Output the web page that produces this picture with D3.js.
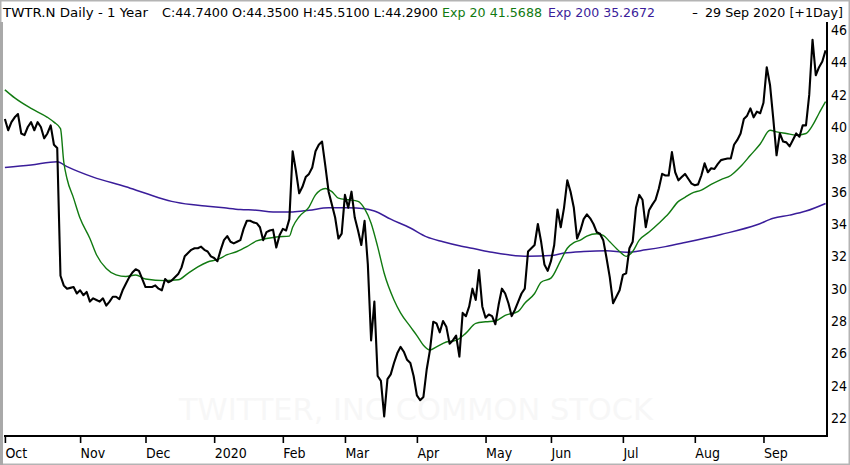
<!DOCTYPE html>
<html>
<head>
<meta charset="utf-8">
<script src="https://cdn.jsdelivr.net/npm/d3@7"></script>
<style>
  body { margin: 0; background: #fff; }
  svg { display: block; }
</style>
</head>
<body>
<svg id="chart" width="850" height="465"></svg>
<script>
// trading days per month, Oct 2019 .. Sep 2020
var monthLabels = ["Oct", "Nov", "Dec", "2020", "Feb", "Mar", "Apr", "May", "Jun", "Jul", "Aug", "Sep"];
var monthDays = [23, 20, 21, 21, 19, 22, 21, 20, 22, 22, 21, 20];

var yTicks = [22, 24, 26, 28, 30, 32, 34, 36, 38, 40, 42, 44, 46];

// daily closes
var closes = [
    // Oct
    40.5, 39.8, 40.3, 40.6, 40.8, 39.6, 39.5, 40.0, 40.3, 39.8, 40.3, 40.0, 39.3, 39.6, 40.1, 38.9, 38.7, 30.8, 30.2, 30.0, 30.05, 30.1, 29.7,
    // Nov
    29.9, 29.6, 29.8, 29.2, 29.4, 29.3, 29.2, 29.4, 28.95, 29.2, 29.5, 29.5, 29.35, 29.9, 30.3, 30.7, 31.0, 31.2, 31.1, 30.6,
    // Dec
    30.1, 30.1, 30.1, 30.2, 30.0, 29.9, 30.6, 30.4, 30.5, 30.7, 30.9, 31.3, 32.0, 32.2, 32.4, 32.5, 32.5, 32.6, 32.4, 32.3, 32.0,
    // Jan
    31.9, 31.7, 32.4, 33.0, 33.25, 32.9, 32.8, 32.9, 33.0, 33.7, 34.2, 34.2, 34.1, 34.05, 33.8, 33.0, 33.5, 33.6, 33.65, 32.55, 33.3,
    // Feb
    33.7, 33.6, 34.3, 38.5, 37.3, 35.9, 36.3, 36.9, 37.1, 37.5, 38.5, 38.9, 39.1, 37.6, 36.0, 35.2, 34.4, 33.1, 33.4,
    // Mar
    35.8, 35.0, 36.0, 34.4, 33.6, 32.7, 34.2, 31.5, 26.8, 29.2, 24.6, 24.3, 22.1, 24.4, 24.7, 25.4, 26.0, 26.4, 26.1, 25.6, 25.4, 24.6,
    // Apr
    23.4, 23.1, 23.3, 25.0, 26.2, 27.95, 27.85, 27.3, 28.0, 27.65, 26.6, 26.8, 27.1, 25.8, 28.5, 28.3, 28.9, 30.0, 29.3, 31.15, 28.9,
    // May
    28.2, 28.4, 28.3, 27.8, 29.0, 30.0, 29.7, 29.1, 28.3, 28.7, 29.2, 29.7, 30.0, 32.3, 32.5, 32.7, 34.0, 32.9, 31.5, 31.1,
    // Jun
    31.7, 32.7, 34.9, 33.8, 35.0, 36.7, 36.0, 35.0, 33.1, 33.6, 34.3, 34.6, 34.35, 34.0, 33.5, 33.4, 33.0, 31.9, 30.7, 29.1, 29.5, 29.9,
    // Jul
    30.85, 30.95, 32.5, 32.9, 35.0, 35.8, 35.5, 33.8, 34.85, 35.2, 35.5, 36.2, 37.1, 37.0, 37.0, 38.45, 37.2, 36.7, 36.9, 37.1, 36.8, 36.5,
    // Aug
    36.4, 36.45, 37.0, 37.75, 37.2, 37.45, 37.4, 37.7, 37.95, 38.0, 38.05, 38.05, 38.9, 39.2, 39.6, 40.5, 40.7, 41.15, 40.6, 40.95, 40.85,
    // Sep
    41.5, 43.7, 42.6, 40.5, 38.25, 39.6, 39.1, 39.05, 38.8, 39.2, 39.6, 39.4, 40.1, 40.1, 42.0, 45.4, 43.2, 43.7, 44.05, 44.74
];

// [trading day, value]
var ema20 = [
    [0, 42.3], [3, 41.8], [8, 41.15], [13, 40.6], [15, 40.3], [17, 39.9], [18, 37.85], [19, 36.8], [21, 35.6],
    [23, 34.35], [26, 33.1], [28, 32.1], [31, 31.25], [34, 30.85], [37, 30.75], [40, 30.85], [43, 30.6],
    [49, 30.5], [53, 30.55], [56, 30.95], [59, 31.35], [62, 31.65], [65, 31.8], [68, 32.1], [71, 32.3],
    [74, 32.6], [77, 32.95], [80, 33.1], [83, 33.2], [87, 33.25], [88, 33.8], [90, 34.45], [93, 35.05],
    [95, 35.8], [98, 36.2], [100, 36.0], [102, 35.6], [105, 35.5], [108, 35.4], [110, 34.95], [112, 34.05],
    [114, 32.6], [116, 30.95], [119, 29.3], [121, 28.5], [124, 27.65], [126, 27.1], [128, 26.5], [130, 26.2],
    [132, 26.4], [135, 26.7], [138, 26.8], [141, 27.25], [144, 27.85], [147, 27.95], [150, 28.0], [153, 28.35],
    [157, 28.6], [159, 29.1], [162, 29.7], [164, 30.4], [167, 30.65], [170, 31.75], [172, 32.5], [174, 32.85],
    [176, 33.0], [178, 33.25], [181, 33.4], [183, 33.3], [185, 32.9], [188, 32.3], [190, 32.0], [192, 32.3],
    [194, 33.0], [197, 33.5], [200, 34.05], [203, 34.65], [206, 35.4], [208, 35.65], [210, 35.9], [213, 36.1],
    [216, 36.45], [219, 36.75], [222, 37.0], [225, 37.55], [228, 38.25], [231, 38.95], [234, 39.8], [236, 39.7],
    [239, 39.6], [242, 39.5], [245, 39.6], [247, 40.1], [249, 40.85], [251, 41.57]
];

// [trading day, value]
var ema200 = [
    [0, 37.5], [8, 37.65], [16, 37.85], [19, 37.55], [27, 36.9], [37, 36.3], [43, 35.9], [51, 35.4],
    [57, 35.2], [62, 35.1], [67, 35.0], [72, 34.9], [77, 34.85], [82, 34.75], [88, 34.75], [93, 34.85],
    [99, 35.0], [105, 35.0], [110, 34.95], [113, 34.8], [118, 34.3], [124, 33.75], [129, 33.2], [134, 32.9],
    [139, 32.65], [144, 32.45], [149, 32.25], [154, 32.1], [160, 32.0], [167, 32.05], [171, 32.2], [177, 32.3],
    [184, 32.35], [190, 32.25], [196, 32.4], [202, 32.6], [208, 32.85], [219, 33.35], [230, 33.95], [235, 34.35],
    [240, 34.55], [245, 34.8], [251, 35.27]
];

var headerParts = [
    { text: "TWTR.N Daily -  1 Year", color: "#000", x: 3, w: 145 },
    { text: "C:44.7400 O:44.3500 H:45.5100 L:44.2900", color: "#000", x: 162, w: 276 },
    { text: "Exp 20 41.5688", color: "#117a11", x: 442, w: 100 },
    { text: "Exp 200 35.2672", color: "#3a1d9a", x: 548, w: 107 },
    { text: "-", color: "#000", x: 692, w: 6 },
    { text: "29 Sep 2020 [+1Day]", color: "#000", x: 705, w: 138 }
];

document.addEventListener('DOMContentLoaded', function () {
    drawChart();
});

function drawChart() {
    var svg = d3.select('#chart');
    svg.selectAll('*').remove();

    var plotLeft = 4, plotRight = 827, plotTop = 22, plotBottom = 436;

    var x = d3.scaleLinear().domain([0, closes.length - 1]).range([4.9, 825.6]);
    var y = d3.scaleLinear().domain([22, 46]).range([418, 30]);

    // month start indices from the day counts
    var monthStarts = [];
    var acc = 0;
    for (var i = 0; i < monthDays.length; i++) {
        monthStarts.push(acc);
        acc += monthDays[i];
    }

    // outer frame
    svg.append('rect')
        .attr('x', 0.75).attr('y', 0.75).attr('width', 848.5).attr('height', 463.5)
        .attr('fill', 'none').attr('stroke', '#b4b4b4').attr('stroke-width', 1.5);
    svg.append('rect')
        .attr('x', 0).attr('y', plotTop).attr('width', 3).attr('height', 465 - plotTop)
        .attr('fill', '#a9a9a9');

    // faint watermark
    svg.append('text')
        .attr('x', 416).attr('y', 420)
        .attr('text-anchor', 'middle')
        .attr('textLength', 474).attr('lengthAdjust', 'spacingAndGlyphs')
        .style('font-family', 'DejaVu Sans, sans-serif')
        .style('font-size', '30px')
        .style('fill', '#f7f7f7')
        .text('TWITTER, INC COMMON STOCK');

    // header
    svg.append('g').selectAll('text')
        .data(headerParts)
        .enter()
        .append('text')
        .attr('x', d => d.x)
        .attr('y', 16.5)
        .attr('textLength', d => d.w)
        .attr('lengthAdjust', 'spacingAndGlyphs')
        .style('font-family', 'DejaVu Sans, sans-serif')
        .style('font-size', '12.5px')
        .style('fill', d => d.color)
        .text(d => d.text);

    var line = d3.line()
        .x(d => x(d[0]))
        .y(d => y(d[1]));

    svg.append('path')
        .datum(ema200)
        .attr('d', line.curve(d3.curveMonotoneX))
        .attr('fill', 'none')
        .attr('stroke', '#3a1d9a')
        .attr('stroke-width', 1.5);

    svg.append('path')
        .datum(ema20)
        .attr('d', line.curve(d3.curveMonotoneX))
        .attr('fill', 'none')
        .attr('stroke', '#117a11')
        .attr('stroke-width', 1.4);

    var closeLine = d3.line()
        .x((d, i) => x(i))
        .y(d => y(d));

    svg.append('path')
        .datum(closes)
        .attr('d', closeLine)
        .attr('fill', 'none')
        .attr('stroke', '#000')
        .attr('stroke-width', 2.1)
        .attr('stroke-linejoin', 'round');

    // axis lines
    svg.append('line')
        .attr('x1', plotLeft).attr('x2', plotRight + 1)
        .attr('y1', plotBottom).attr('y2', plotBottom)
        .attr('stroke', '#000').attr('stroke-width', 2);
    svg.append('line')
        .attr('x1', plotRight).attr('x2', plotRight)
        .attr('y1', plotTop).attr('y2', plotBottom)
        .attr('stroke', '#000').attr('stroke-width', 2);

    // bottom axis
    var xAxis = d3.axisBottom(x)
        .tickValues(monthStarts)
        .tickFormat((d, i) => monthLabels[i])
        .tickSizeInner(7)
        .tickSizeOuter(0)
        .tickPadding(5);

    var gx = svg.append('g')
        .attr('transform', 'translate(0,' + plotBottom + ')')
        .call(xAxis);
    gx.select('.domain').remove();
    gx.selectAll('.tick line').attr('stroke', '#000').attr('stroke-width', 1.6);
    gx.selectAll('.tick text')
        .attr('text-anchor', 'start')
        .attr('fill', '#000')
        .style('font-family', 'DejaVu Sans Condensed, DejaVu Sans, sans-serif')
        .style('font-size', '14px');

    // right axis
    var yAxis = d3.axisRight(y)
        .tickValues(yTicks)
        .tickSize(0)
        .tickPadding(4);

    var gy = svg.append('g')
        .attr('transform', 'translate(' + plotRight + ',0)')
        .call(yAxis);
    gy.select('.domain').remove();
    gy.selectAll('.tick text')
        .attr('fill', '#000')
        .style('font-family', 'DejaVu Sans Condensed, DejaVu Sans, sans-serif')
        .style('font-size', '14px');
}
</script>
</body>
</html>
